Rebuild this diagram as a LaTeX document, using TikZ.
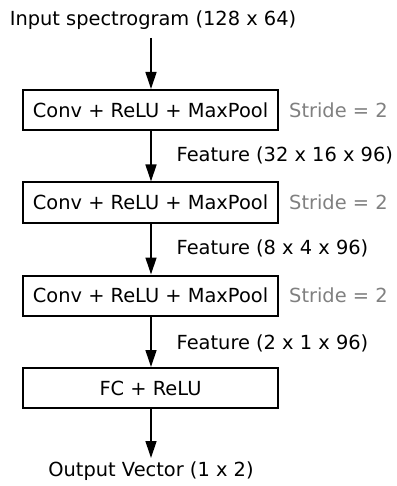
\documentclass[tikz,border=0pt]{standalone}
\usepackage{fontspec}
\setmainfont{DejaVu Sans}
\usetikzlibrary{arrows.meta}
\definecolor{stridegray}{RGB}{128,128,128}
\tikzset{
  layerbox/.style={draw, line width=2pt, minimum width=255pt, minimum height=40pt,
    inner sep=0pt, font=\fontsize{19.4}{23}\selectfont},
  plain/.style={inner sep=0pt, font=\fontsize{19.4}{23}\selectfont},
  stridelabel/.style={plain, text=stridegray, anchor=base west},
  featlabel/.style={plain, anchor=base west},
  flow/.style={line width=1.3pt, -{Triangle[width=11pt,length=17pt]}}
}
\begin{document}
\begin{tikzpicture}[x=1pt,y=-1pt]
\useasboundingbox (0,0) rectangle (396,486);

% input and output captions
\node[plain, anchor=base] (in) at (153,26) {Input spectrogram (128 x 64)};
\node[plain, anchor=base] (out) at (151,476) {Output Vector (1 x 2)};

% network layers
\node[layerbox] (b1) at (150.5,110)   {Conv + ReLU + MaxPool};
\node[layerbox] (b2) at (150.5,202.5) {Conv + ReLU + MaxPool};
\node[layerbox] (b3) at (150.5,295.5) {Conv + ReLU + MaxPool};
\node[layerbox] (b4) at (150.5,388)   {FC + ReLU};

% stride annotations
\node[stridelabel] (s1) at ([xshift=10pt]b1.base east) {Stride = 2};
\node[stridelabel] (s2) at ([xshift=10pt]b2.base east) {Stride = 2};
\node[stridelabel] (s3) at ([xshift=10pt]b3.base east) {Stride = 2};

% feature sizes between layers
\node[featlabel] (f1) at (176.5,161.5) {Feature (32 x 16 x 96)};
\node[featlabel] (f2) at (176.5,254.5) {Feature (8 x 4 x 96)};
\node[featlabel] (f3) at (176.5,349)   {Feature (2 x 1 x 96)};

% data flow
\coordinate (top) at (151,38);
\coordinate (bot) at (151,458);
\draw[flow] (top) -- (top |- b1.north);
\draw[flow] (top |- b1.south) -- (top |- b2.north);
\draw[flow] (top |- b2.south) -- (top |- b3.north);
\draw[flow] (top |- b3.south) -- (top |- b4.north);
\draw[flow] (top |- b4.south) -- (bot);
\end{tikzpicture}
\end{document}
